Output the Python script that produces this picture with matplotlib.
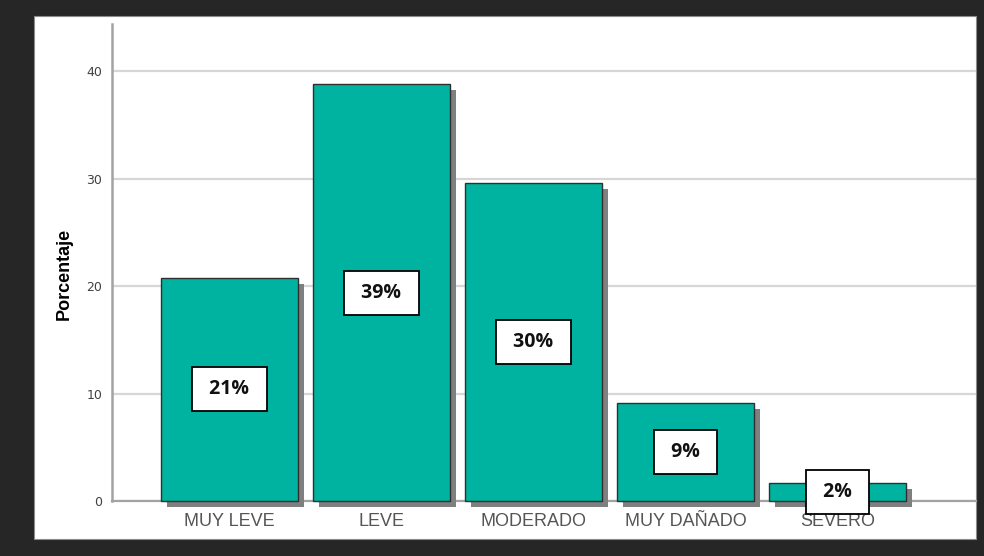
import matplotlib.pyplot as plt
import matplotlib.patheffects as pe
from matplotlib.patches import Rectangle

# data
categories = ["MUY LEVE", "LEVE", "MODERADO", "MUY DAÑADO", "SEVERO"]
percentages = [20.8, 38.8, 29.6, 9.1, 1.7]
bar_labels = ["21%", "39%", "30%", "9%", "2%"]
y_ticks = [0, 10, 20, 30, 40]

bar_color = "#00B3A0"
dark_bg = "#262626"

fig = plt.figure(figsize=(9.84, 5.56), dpi=100)
fig.patch.set_facecolor(dark_bg)

# white panel behind the chart
fig.patches.append(Rectangle((34 / 984, 1 - 539 / 556), 942 / 984, 523 / 556,
                             transform=fig.transFigure, facecolor="white",
                             edgecolor="#8c8c8c", linewidth=0.8, zorder=-5))

ax = fig.add_axes([112 / 984, 1 - 501 / 556, 864 / 984, 477 / 556])
ax.set_facecolor("none")

x = range(len(categories))
shadow = [pe.SimplePatchShadow(offset=(4.3, -4.3), shadow_rgbFace="#7f7f7f", alpha=1.0),
          pe.Normal()]
bars = ax.bar(x, percentages, width=0.9, color=bar_color, edgecolor="#2f2f2f",
              linewidth=1.0, zorder=3, clip_on=False)
for b in bars:
    b.set_path_effects(shadow)

# value boxes in the middle of each bar
for xi, val, lab in zip(x, percentages, bar_labels):
    ax.text(xi, val / 2, " " + lab + " ", ha="center", va="center",
            fontsize=14, fontweight="bold", family="Open Sans", color="#111111",
            zorder=5,
            bbox=dict(boxstyle="square,pad=0.62", facecolor="white",
                      edgecolor="black", linewidth=1.3))

ax.set_xlim(-0.773, 4.91)
ax.set_ylim(0, 44.4)
ax.set_yticks(y_ticks)
ax.set_xticks(list(x))
ax.set_xticklabels(categories, family="Liberation Sans", fontsize=13, color="#555555")
ax.tick_params(axis="x", length=0, pad=9)
ax.tick_params(axis="y", length=0, pad=7, labelsize=9, labelcolor="#404040")

ax.yaxis.grid(True, color="#d6d6d6", linewidth=1.6, zorder=1)
ax.set_axisbelow(True)

for s in ["top", "right"]:
    ax.spines[s].set_visible(False)
ax.spines["left"].set_color("#a3a3a3")
ax.spines["left"].set_linewidth(1.8)
ax.spines["bottom"].set_color("#a3a3a3")
ax.spines["bottom"].set_linewidth(1.6)
ax.spines["bottom"].set_zorder(2)

ax.set_ylabel("Porcentaje", family="Liberation Sans", fontsize=13, fontweight="bold",
              color="black")
ax.yaxis.set_label_coords(-0.046, 0.476)

fig.savefig("out.png", dpi=100, facecolor=fig.get_facecolor())
